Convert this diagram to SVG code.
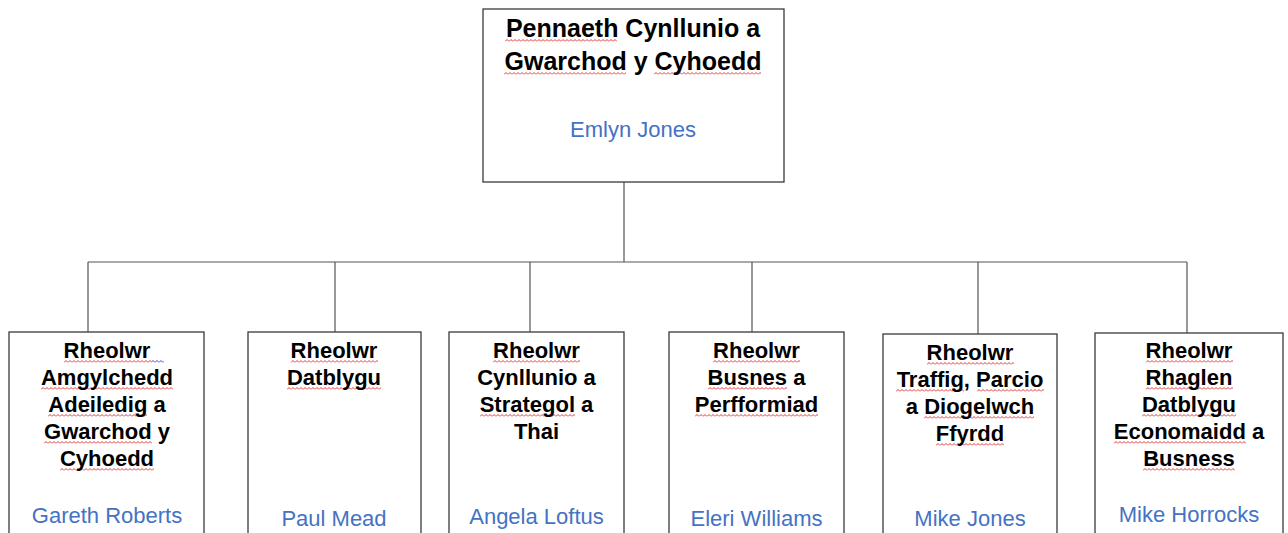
<svg xmlns="http://www.w3.org/2000/svg" width="1288" height="533" viewBox="0 0 1288 533">
<style>
.box{fill:#fff;stroke:#3a3a3a;stroke-width:1.3}
.t{font-family:"Liberation Sans",Arial,sans-serif;font-weight:bold;font-size:22px;fill:#000;text-anchor:middle}
.tt{font-family:"Liberation Sans",Arial,sans-serif;font-weight:bold;font-size:25px;fill:#000;text-anchor:middle}
.n{font-family:"Liberation Sans",Arial,sans-serif;font-size:22px;fill:#4472C4;text-anchor:middle}
.c{stroke:#555;stroke-width:1.2;fill:none}
.sp{fill:url(#wave)}
.spb{fill:url(#waveb)}
</style>
<defs>
<pattern id="wave" width="4" height="3" patternUnits="userSpaceOnUse"><path d="M0 2.5 L2 0.5 L4 2.5" fill="none" stroke="#e02020" stroke-width="0.9"/></pattern>
<pattern id="waveb" width="4" height="3" patternUnits="userSpaceOnUse"><path d="M0 2.5 L2 0.5 L4 2.5" fill="none" stroke="#3030e0" stroke-width="0.9"/></pattern>
</defs>
<rect width="1288" height="533" fill="#fff"/>
<g id="connectors">
<path class="c" d="M624 182 V262 M88 262 H1187 M88 262 V332 M335 262 V332 M530 262 V332 M752 262 V332 M978 262 V334 M1187 262 V333"/>
</g>
<g id="head">
<rect class="box" x="483" y="9" width="301" height="173"/>
<g transform="translate(505,39)"><rect class="sp" width="112" height="3"/></g>
<g transform="translate(504,72)"><rect class="sp" width="122" height="3"/></g>
<g transform="translate(654,72)"><rect class="sp" width="107" height="3"/></g>
<text class="tt" x="633" y="37">Pennaeth Cynllunio a</text>
<text class="tt" x="633" y="70">Gwarchod y Cyhoedd</text>
<text class="n" x="633" y="137">Emlyn Jones</text>
</g>
<g id="n1">
<rect class="box" x="9" y="332" width="195" height="210"/>
<g transform="translate(64,360)"><rect class="sp" width="87" height="3"/></g>
<g transform="translate(151,360)"><rect class="spb" width="13" height="3"/></g>
<g transform="translate(41,387)"><rect class="sp" width="132" height="3"/></g>
<g transform="translate(48,414)"><rect class="sp" width="99" height="3"/></g>
<g transform="translate(44,441)"><rect class="sp" width="108" height="3"/></g>
<g transform="translate(60,468)"><rect class="sp" width="94" height="3"/></g>
<text class="t" x="107" y="358">Rheolwr</text>
<text class="t" x="107" y="385">Amgylchedd</text>
<text class="t" x="107" y="412">Adeiledig a</text>
<text class="t" x="107" y="439">Gwarchod y</text>
<text class="t" x="107" y="466">Cyhoedd</text>
<text class="n" x="107" y="523">Gareth Roberts</text>
</g>
<g id="n2">
<rect class="box" x="248" y="332" width="173" height="210"/>
<g transform="translate(291,360)"><rect class="sp" width="87" height="3"/></g>
<g transform="translate(287,387)"><rect class="sp" width="94" height="3"/></g>
<text class="t" x="334" y="358">Rheolwr</text>
<text class="t" x="334" y="385">Datblygu</text>
<text class="n" x="334" y="526">Paul Mead</text>
</g>
<g id="n3">
<rect class="box" x="449" y="332" width="175" height="210"/>
<g transform="translate(493,360)"><rect class="sp" width="87" height="3"/></g>
<g transform="translate(480,414)"><rect class="sp" width="95" height="3"/></g>
<text class="t" x="536.5" y="358">Rheolwr</text>
<text class="t" x="536.5" y="385">Cynllunio a</text>
<text class="t" x="536.5" y="412">Strategol a</text>
<text class="t" x="536.5" y="439">Thai</text>
<text class="n" x="536.5" y="524">Angela Loftus</text>
</g>
<g id="n4">
<rect class="box" x="669" y="332" width="175" height="210"/>
<g transform="translate(713,360)"><rect class="sp" width="87" height="3"/></g>
<g transform="translate(708,387)"><rect class="sp" width="79" height="3"/></g>
<g transform="translate(695,414)"><rect class="sp" width="123" height="3"/></g>
<text class="t" x="756.5" y="358">Rheolwr</text>
<text class="t" x="756.5" y="385">Busnes a</text>
<text class="t" x="756.5" y="412">Perfformiad</text>
<text class="n" x="756.5" y="526">Eleri Williams</text>
</g>
<g id="n5">
<rect class="box" x="883" y="334" width="174" height="210"/>
<g transform="translate(927,362)"><rect class="sp" width="87" height="3"/></g>
<g transform="translate(896,389)"><rect class="sp" width="68" height="3"/></g>
<g transform="translate(977,389)"><rect class="sp" width="67" height="3"/></g>
<g transform="translate(924,416)"><rect class="sp" width="110" height="3"/></g>
<g transform="translate(936,443)"><rect class="sp" width="68" height="3"/></g>
<text class="t" x="970" y="360">Rheolwr</text>
<text class="t" x="970" y="387">Traffig, Parcio</text>
<text class="t" x="970" y="414">a Diogelwch</text>
<text class="t" x="970" y="441">Ffyrdd</text>
<text class="n" x="970" y="526">Mike Jones</text>
</g>
<g id="n6">
<rect class="box" x="1095" y="333" width="188" height="210"/>
<g transform="translate(1146,360)"><rect class="sp" width="87" height="3"/></g>
<g transform="translate(1146,387)"><rect class="sp" width="87" height="3"/></g>
<g transform="translate(1142,414)"><rect class="sp" width="94" height="3"/></g>
<g transform="translate(1114,441)"><rect class="sp" width="132" height="3"/></g>
<g transform="translate(1143,468)"><rect class="sp" width="92" height="3"/></g>
<text class="t" x="1189" y="358">Rheolwr</text>
<text class="t" x="1189" y="385">Rhaglen</text>
<text class="t" x="1189" y="412">Datblygu</text>
<text class="t" x="1189" y="439">Economaidd a</text>
<text class="t" x="1189" y="466">Busness</text>
<text class="n" x="1189" y="522">Mike Horrocks</text>
</g>
</svg>
